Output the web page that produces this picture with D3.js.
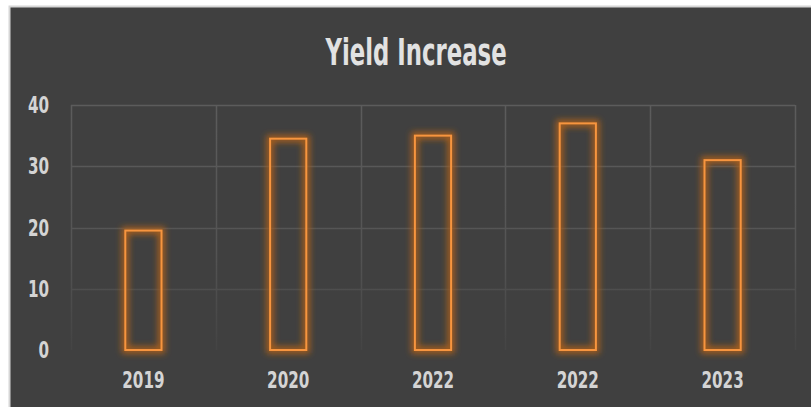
<!DOCTYPE html>
<html>
<head>
<meta charset="utf-8">
<script src="https://cdn.jsdelivr.net/npm/d3@7"></script>
<style>
  html, body { margin: 0; padding: 0; background: #ffffff; }
  svg { display: block; }
</style>
</head>
<body>
<svg id="chart" width="811" height="407"></svg>
<script>
// chart data
var years = ['2019', '2020', '2022', '2022', '2023'];
var yieldValues = [19.5, 34.5, 35, 37, 31];
var yTicks = [0, 10, 20, 30, 40];
var chartTitle = 'Yield Increase';

var W = 811, H = 407;
var margin = { top: 105, right: 16, bottom: 57, left: 71 };
var FONT = '"DejaVu Sans", sans-serif';
// no condensed display face installed, so squeeze a bold sans horizontally
var SQUEEZE = 0.66;

var svg = d3.select('#chart');

// frame: white surround, grey edge, dark chart area
svg.append('rect')
	.attr('x', 9.5).attr('y', 6.5)
	.attr('width', W).attr('height', H)
	.attr('fill', '#404040')
	.attr('stroke', '#d6d6d6')
	.attr('stroke-width', 2);

var defs = svg.append('defs');

// gridlines fade out toward the baseline
var grad = defs.append('linearGradient')
	.attr('id', 'gridFade')
	.attr('gradientUnits', 'userSpaceOnUse')
	.attr('x1', 0).attr('x2', 0)
	.attr('y1', margin.top).attr('y2', H - margin.bottom);
grad.append('stop').attr('offset', '0%').attr('stop-color', '#5c5c5c');
grad.append('stop').attr('offset', '60%').attr('stop-color', '#545454');
grad.append('stop').attr('offset', '100%').attr('stop-color', '#444444');

// orange glow behind the bar outlines
var glow = defs.append('filter')
	.attr('id', 'glow')
	.attr('x', '-60%').attr('y', '-20%')
	.attr('width', '220%').attr('height', '140%');
glow.append('feGaussianBlur')
	.attr('in', 'SourceGraphic')
	.attr('stdDeviation', 3);

var x = d3.scaleBand()
	.domain(d3.range(years.length))
	.range([margin.left, W - margin.right])
	.paddingInner(0)
	.paddingOuter(0);

var y = d3.scaleLinear()
	.domain([0, 40])
	.range([H - margin.bottom, margin.top]);

// horizontal gridlines
svg.append('g')
	.selectAll('line')
	.data(yTicks.filter(function(d) { return d > 0; }))
	.join('line')
	.attr('x1', margin.left).attr('x2', W - margin.right)
	.attr('y1', function(d) { return Math.round(y(d)) + 0.5; })
	.attr('y2', function(d) { return Math.round(y(d)) + 0.5; })
	.attr('stroke', 'url(#gridFade)')
	.attr('stroke-width', 1.5);

// vertical gridlines (category boundaries)
var bounds = d3.range(years.length + 1).map(function(i) {
	return i < years.length ? x(i) : x(i - 1) + x.bandwidth();
});
svg.append('g')
	.selectAll('line')
	.data(bounds)
	.join('line')
	.attr('x1', function(d) { return Math.round(d) + 0.5; })
	.attr('x2', function(d) { return Math.round(d) + 0.5; })
	.attr('y1', y(40)).attr('y2', y(0))
	.attr('stroke', 'url(#gridFade)')
	.attr('stroke-width', 1.5);

// bars
var barW = x.bandwidth() * 0.25;
var bars = svg.append('g');

bars.selectAll('rect.halo')
	.data(yieldValues)
	.join('rect')
	.attr('class', 'halo')
	.attr('x', function(d, i) { return x(i) + (x.bandwidth() - barW) / 2; })
	.attr('y', function(d) { return y(d); })
	.attr('width', barW)
	.attr('height', function(d) { return y(0) - y(d); })
	.attr('fill', 'none')
	.attr('stroke', '#a85e1c')
	.attr('stroke-width', 7)
	.attr('filter', 'url(#glow)');

bars.selectAll('rect.bar')
	.data(yieldValues)
	.join('rect')
	.attr('class', 'bar')
	.attr('x', function(d, i) { return x(i) + (x.bandwidth() - barW) / 2; })
	.attr('y', function(d) { return y(d); })
	.attr('width', barW)
	.attr('height', function(d) { return y(0) - y(d); })
	.attr('fill', 'none')
	.attr('stroke', '#f7953f')
	.attr('stroke-width', 2);

// text squeezed horizontally around its anchor point
function squeezed(sel, px, py, k) {
	return sel.attr('transform', function(d, i) {
		return 'translate(' + px(d, i) + ',' + py(d, i) + ') scale(' + (k || SQUEEZE) + ',1)';
	})
	.attr('font-family', FONT)
	.attr('font-weight', 'bold');
}

// y axis labels
squeezed(svg.append('g')
	.selectAll('text')
	.data(yTicks)
	.join('text'),
	function() { return 49; },
	function(d) { return y(d) + 8; })
	.attr('text-anchor', 'end')
	.attr('font-size', 23)
	.attr('fill', '#d4d4d4')
	.text(function(d) { return d; });

// x axis labels
squeezed(svg.append('g')
	.selectAll('text')
	.data(years)
	.join('text'),
	function(d, i) { return x(i) + x.bandwidth() / 2; },
	function() { return 388; })
	.attr('text-anchor', 'middle')
	.attr('font-size', 23)
	.attr('fill', '#d4d4d4')
	.text(function(d) { return d; });

// title
squeezed(svg.append('text').datum(chartTitle),
	function() { return 416; },
	function() { return 65; },
	0.6)
	.attr('text-anchor', 'middle')
	.attr('font-size', 38)
	.attr('fill', '#e2e2e2')
	.text(chartTitle);
</script>
</body>
</html>
